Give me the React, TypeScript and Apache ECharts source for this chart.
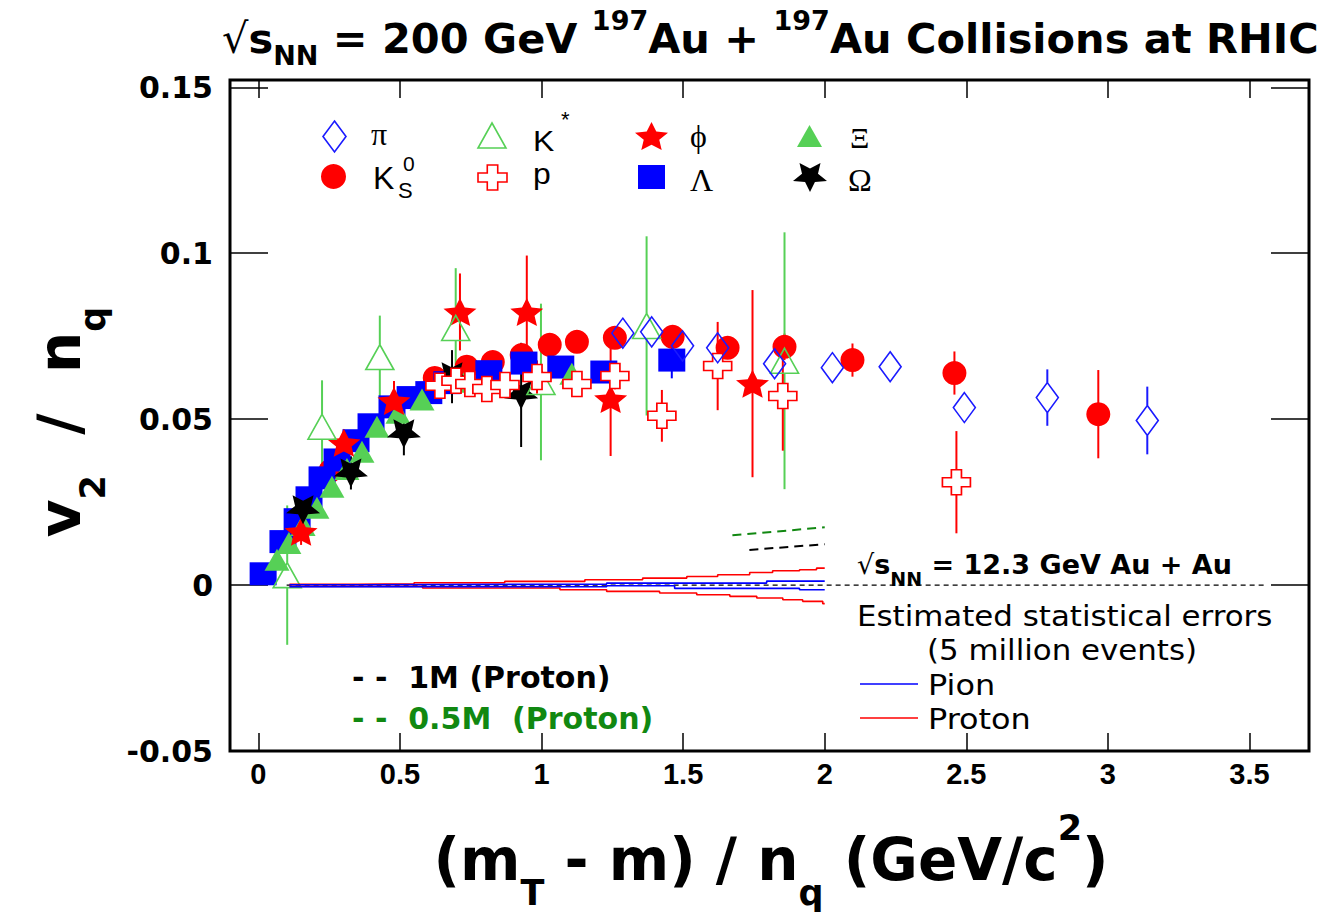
import React, { useEffect, useRef } from 'react';
import * as echarts from 'echarts';

// ---- axis ticks ----
const xTickValues = [0, 0.5, 1, 1.5, 2, 2.5, 3, 3.5];
const xTickLabels = ['0', '0.5', '1', '1.5', '2', '2.5', '3', '3.5'];
const yTickValues = [-0.05, 0, 0.05, 0.1, 0.15];
const yTickLabels = ['-0.05', '0', '0.05', '0.1', '0.15'];

// ---- v2/nq vs (mT - m)/nq, 200 GeV Au+Au ----
// pi
const pionX = [1.287, 1.389, 1.498, 1.622, 1.823, 2.027, 2.231, 2.493, 2.786, 3.139];
const pionV2 = [0.0759, 0.0763, 0.0721, 0.0715, 0.0667, 0.0655, 0.0658, 0.0535, 0.0565, 0.0496];
const pionErr = [0.001, 0.001, 0.001, 0.001, 0.0015, 0.0015, 0.002, 0.003, 0.0085, 0.0102];
// K0s
const k0sX = [0.255, 0.623, 0.736, 0.828, 0.93, 1.029, 1.125, 1.259, 1.463, 1.657, 1.858, 2.098, 2.458, 2.966];
const k0sV2 = [0.0345, 0.0624, 0.0658, 0.0672, 0.0693, 0.0724, 0.0733, 0.0745, 0.0748, 0.0715, 0.0718, 0.0678, 0.0639, 0.0515];
const k0sErr = [0.001, 0.001, 0.001, 0.001, 0.0015, 0.0015, 0.0015, 0.002, 0.002, 0.003, 0.004, 0.005, 0.0065, 0.0133];
// K*
const kstarX = [0.102, 0.225, 0.429, 0.697, 0.998, 1.371, 1.858];
const kstarV2 = [0.003, 0.0477, 0.0687, 0.0775, 0.0612, 0.0781, 0.0676];
const kstarErr = [0.021, 0.014, 0.0125, 0.018, 0.0236, 0.027, 0.0387];
// p
const protonX = [0.641, 0.698, 0.747, 0.807, 0.871, 0.984, 1.125, 1.259, 1.425, 1.622, 1.852, 2.465];
const protonV2 = [0.0601, 0.0616, 0.0606, 0.0591, 0.0603, 0.0627, 0.0606, 0.063, 0.051, 0.066, 0.057, 0.031];
const protonErr = [0.002, 0.002, 0.002, 0.002, 0.003, 0.005, 0.003, 0.004, 0.0078, 0.0133, 0.0165, 0.0154];
// phi
const phiX = [0.151, 0.302, 0.479, 0.712, 0.948, 1.244, 1.745];
const phiV2 = [0.0161, 0.0429, 0.0555, 0.0823, 0.0823, 0.0561, 0.0607];
const phiErr = [0.004, 0.004, 0.006, 0.0116, 0.017, 0.0172, 0.0282];
// Lambda
const lambdaX = [0.017, 0.087, 0.137, 0.179, 0.225, 0.278, 0.345, 0.398, 0.472, 0.536, 0.602, 0.666, 0.814, 0.938, 1.068, 1.22, 1.46];
const lambdaV2 = [0.0034, 0.0131, 0.0197, 0.0263, 0.0323, 0.0377, 0.0435, 0.0483, 0.0537, 0.0565, 0.058, 0.061, 0.0643, 0.0669, 0.0657, 0.0642, 0.0678];
const lambdaErr = [0.0005, 0.0005, 0.0005, 0.0005, 0.0005, 0.0006, 0.0006, 0.0007, 0.0008, 0.001, 0.001, 0.001, 0.0015, 0.002, 0.002, 0.003, 0.0055];
// Xi
const xiX = [0.066, 0.108, 0.158, 0.207, 0.26, 0.313, 0.366, 0.419, 0.493, 0.578, 0.729, 1.107];
const xiV2 = [0.0076, 0.0127, 0.0181, 0.0233, 0.0296, 0.035, 0.0402, 0.0477, 0.0519, 0.0559, 0.0613, 0.0637];
const xiErr = [0.001, 0.001, 0.001, 0.001, 0.001, 0.0012, 0.0012, 0.0015, 0.0015, 0.002, 0.002, 0.003];
// Omega
const omegaX = [0.158, 0.327, 0.514, 0.684, 0.928];
const omegaV2 = [0.0227, 0.0338, 0.0456, 0.0628, 0.0573];
const omegaErr = [0.006, 0.005, 0.0065, 0.008, 0.0157];

// ---- projected statistical errors, 12.3 GeV (5M events) ----
const protonUpX = [0.11, 0.35, 0.55, 0.87, 1.153, 1.357, 1.513, 1.622, 1.735, 1.816, 1.911, 1.971, 2.0];
const protonUpY = [0.0002, 0.0004, 0.0007, 0.0011, 0.0016, 0.0021, 0.0026, 0.0031, 0.0038, 0.0043, 0.0046, 0.0051, 0.0051];
const protonLoX = [0.11, 0.58, 1.065, 1.23, 1.417, 1.548, 1.665, 1.76, 1.852, 1.922, 1.993, 2.0];
const protonLoY = [-0.0004, -0.0009, -0.0014, -0.0019, -0.0024, -0.0029, -0.0034, -0.0039, -0.0044, -0.0049, -0.0056, -0.0056];
const pionUpX = [0.11, 0.35, 1.23, 1.795, 2.0];
const pionUpY = [0.0001, 0.0003, 0.0006, 0.0012, 0.0012];
const pionLoX = [0.11, 1.23, 1.47, 1.911, 2.0];
const pionLoY = [-0.0005, -0.0002, -0.001, -0.0014, -0.0014];
const refLineX = [0.1, 3.55];
const refLineY = [0, 0];
const proton1MX = [1.734, 2.0];
const proton1MY = [0.0106, 0.0123];
const proton05MX = [1.674, 2.0];
const proton05MY = [0.015, 0.0174];

const SANS = '"DejaVu Sans", sans-serif';
const ARIAL = '"Liberation Sans", Arial, sans-serif';
const SERIF = '"Liberation Serif", "DejaVu Serif", serif';

const RED = '#ff0000';
const BLUE = '#0000ff';
const PIBLUE = '#1a1aff';
const GREEN = '#56d056';
const DARKGREEN = '#118811';

// ---- marker geometry ----
function starPoints(inner: number): number[][] {
  const pts: number[][] = [];
  for (let k = 0; k < 10; k++) {
    const r = k % 2 === 0 ? 1 : inner;
    const a = ((-90 + k * 36) * Math.PI) / 180;
    pts.push([r * Math.cos(a), r * Math.sin(a)]);
  }
  return pts;
}
const A = 0.36;
const CROSS = [[-A, -1], [A, -1], [A, -A], [1, -A], [1, A], [A, A], [A, 1], [-A, 1], [-A, A], [-1, A], [-1, -A], [-A, -A]];
const STAR = starPoints(0.47);
const DIAMOND = [[0, -1], [1, 0], [0, 1], [-1, 0]];
const TRIANGLE = [[0, -1], [1, 1], [-1, 1]];

function symbolPath(pts: number[][]): string {
  return 'path://' + pts.map((p, i) => (i ? 'L' : 'M') + (p[0] * 100).toFixed(1) + ' ' + (p[1] * 100).toFixed(1)).join(' ') + ' Z';
}
function fitPoints(pts: number[][], cx: number, cy: number, w: number, h: number, flip = false): number[][] {
  const src = flip ? pts.map((p) => [p[0], -p[1]]) : pts;
  const xs = src.map((p) => p[0]);
  const ys = src.map((p) => p[1]);
  const x0 = Math.min(...xs), x1 = Math.max(...xs), y0 = Math.min(...ys), y1 = Math.max(...ys);
  return src.map((p) => [cx - w / 2 + ((p[0] - x0) / (x1 - x0)) * w, cy - h / 2 + ((p[1] - y0) / (y1 - y0)) * h]);
}

const zip = (xs: number[], ys: number[]) => xs.map((x, i) => [x, ys[i]]);

function errorBars(xs: number[], ys: number[], errs: number[], color: string, gap: number) {
  return {
    type: 'custom',
    silent: true,
    data: xs.map((x, i) => [x, ys[i], errs[i]]),
    encode: { x: 0, y: 1 },
    renderItem: (_p: any, api: any) => {
      const x = api.value(0), y = api.value(1), e = api.value(2);
      const top = api.coord([x, y + e]);
      const mid = api.coord([x, y]);
      const bot = api.coord([x, y - e]);
      const children: any[] = [];
      const st = { stroke: color, lineWidth: 2 };
      if (mid[1] - top[1] > gap) children.push({ type: 'line', shape: { x1: mid[0], y1: top[1], x2: mid[0], y2: mid[1] - gap }, style: st });
      if (bot[1] - mid[1] > gap) children.push({ type: 'line', shape: { x1: mid[0], y1: mid[1] + gap, x2: mid[0], y2: bot[1] }, style: st });
      return { type: 'group', children };
    },
  };
}

function markers(name: string, xs: number[], ys: number[], symbol: string, size: any, fill: string, stroke: string, rotate = 0) {
  return {
    type: 'scatter',
    name,
    data: zip(xs, ys),
    symbol,
    symbolSize: size,
    symbolRotate: rotate,
    silent: true,
    itemStyle: { color: fill, borderColor: stroke, borderWidth: stroke === 'none' ? 0 : 1.6, opacity: 1 },
  };
}

function bandLine(xs: number[], ys: number[], color: string, dash: any = 'solid', width = 1.6, step: any = 'end') {
  return {
    type: 'line',
    data: zip(xs, ys),
    step,
    symbol: 'none',
    silent: true,
    lineStyle: { color, width, type: dash },
  };
}

const fmt = (vals: number[], labels: string[]) => (v: number) => {
  const i = vals.findIndex((t) => Math.abs(t - v) < 1e-9);
  return i >= 0 ? labels[i] : '';
};

function buildOption() {
  const tickStyle = { color: '#000', width: 1.5 };
  const TRANSPARENT = 'rgba(0,0,0,0)';

  const legendShapes: any[] = [
    { type: 'polygon', shape: { points: fitPoints(DIAMOND, 334.5, 136.5, 23, 31) }, style: { fill: TRANSPARENT, stroke: PIBLUE, lineWidth: 1.6 } },
    { type: 'polygon', shape: { points: fitPoints(TRIANGLE, 492, 135.5, 28, 25) }, style: { fill: TRANSPARENT, stroke: GREEN, lineWidth: 1.6 } },
    { type: 'polygon', shape: { points: fitPoints(STAR, 651.5, 136, 33, 28) }, style: { fill: RED } },
    { type: 'polygon', shape: { points: fitPoints(TRIANGLE, 809.5, 136, 25, 22) }, style: { fill: GREEN } },
    { type: 'circle', shape: { cx: 333.5, cy: 176.5, r: 12.5 }, style: { fill: RED } },
    { type: 'polygon', shape: { points: fitPoints(CROSS, 492.5, 177.5, 29, 25) }, style: { fill: '#fff', stroke: RED, lineWidth: 1.6 } },
    { type: 'rect', shape: { x: 638, y: 165, width: 27, height: 24 }, style: { fill: BLUE } },
    { type: 'polygon', shape: { points: fitPoints(STAR, 810, 177.5, 34, 29, true) }, style: { fill: '#000' } },
  ];

  const txt = (text: string, x: number, y: number, font: string, size: number, extra: any = {}, scaleX = 1) => ({
    type: 'text',
    x,
    y,
    scaleX,
    style: { text, fontFamily: font, fontSize: size, fill: '#000', align: 'left', verticalAlign: 'middle', ...extra },
  });

  const legendTexts: any[] = [
    txt('π', 371, 134, SERIF, 32),
    txt('K', 533, 141, ARIAL, 29, { lineHeight: 24 }, 1.1),
    txt('*', 561, 119, ARIAL, 22, { lineHeight: 12 }),
    txt('ϕ', 690, 136, SERIF, 32),
    txt('Ξ', 850, 137, SERIF, 30),
    txt('K', 373, 178, ARIAL, 32, { lineHeight: 26 }),
    txt('0', 403, 163, ARIAL, 21, { lineHeight: 16 }),
    txt('S', 398, 190, ARIAL, 22, { lineHeight: 16 }),
    txt('p', 533, 174, ARIAL, 29, { lineHeight: 24 }, 1.1),
    txt('Λ', 690, 180, SERIF, 32),
    txt('Ω', 848, 180, SERIF, 32),
  ];

  const boldRich = (main: number, sub: number, lh: number, supLh: number) => ({
    r: { fontFamily: SANS, fontWeight: 'normal', fontSize: main, lineHeight: lh, fill: '#000' },
    m: { fontFamily: SANS, fontWeight: 'bold', fontSize: main, lineHeight: lh, fill: '#000' },
    sub: { fontFamily: SANS, fontWeight: 'bold', fontSize: sub, lineHeight: sub, verticalAlign: 'bottom', fill: '#000' },
    sup: { fontFamily: SANS, fontWeight: 'bold', fontSize: sub, lineHeight: supLh, verticalAlign: 'top', fill: '#000' },
  });

  const titles: any[] = [
    {
      type: 'text',
      x: 222,
      y: 38,
      style: {
        text: '{r|√}{m|s}{sub|NN}{m| = 200 GeV }{sup|197}{m|Au + }{sup|197}{m|Au Collisions at RHIC}',
        rich: boldRich(41.5, 27, 62, 27),
        align: 'left',
        verticalAlign: 'middle',
      },
    },
    {
      type: 'text',
      x: 771,
      y: 860,
      style: {
        text: '{m|(m}{sub|T}{m| - m) / n}{sub|q}{m| (GeV/c}{sup|2}{m|)}',
        rich: boldRich(58, 35, 100, 45),
        align: 'center',
        verticalAlign: 'middle',
      },
    },
    {
      type: 'text',
      x: 60,
      y: 422,
      rotation: Math.PI / 2,
      style: {
        text: '{m|v}{sub|2}{m|  /  n}{sub|q}',
        rich: boldRich(58, 35, 100, 45),
        align: 'center',
        verticalAlign: 'middle',
      },
    },
    {
      type: 'text',
      x: 857,
      y: 564.5,
      style: {
        text: '{r|√}{m|s}{sub|NN}{m| = 12.3 GeV Au + Au}',
        rich: boldRich(27, 19, 48, 19),
        align: 'left',
        verticalAlign: 'middle',
      },
    },
    txt('Estimated statistical errors', 857, 616, SANS, 29, { lineHeight: 28 }, 1.065),
    txt('(5 million events)', 1062, 650, SANS, 29, { align: 'center', lineHeight: 28 }, 1.065),
    txt('Pion', 928, 685, SANS, 29, { lineHeight: 28 }, 1.1),
    txt('Proton', 928, 719, SANS, 29, { lineHeight: 28 }, 1.1),
    { type: 'line', shape: { x1: 860, y1: 684, x2: 918, y2: 684 }, style: { stroke: BLUE, lineWidth: 1.5 } },
    { type: 'line', shape: { x1: 860, y1: 718, x2: 918, y2: 718 }, style: { stroke: RED, lineWidth: 1.5 } },
    txt('- -  1M (Proton)', 352, 677, SANS, 30, { fontWeight: 'bold', lineHeight: 32 }),
    txt('- -  0.5M  (Proton)', 352, 718, SANS, 30, { fontWeight: 'bold', fill: DARKGREEN, lineHeight: 32 }),
  ];

  const xAxisBase = {
    type: 'value',
    min: -0.1,
    max: 3.71,
    axisLine: { show: false, onZero: false },
    splitLine: { show: false },
    axisTick: { show: true, inside: true, length: 18, customValues: xTickValues, lineStyle: tickStyle },
  };
  const yAxisBase = {
    type: 'value',
    min: -0.05,
    max: 0.1522,
    axisLine: { show: false, onZero: false },
    splitLine: { show: false },
    axisTick: { show: true, inside: true, length: 38, customValues: yTickValues, lineStyle: tickStyle },
  };

  return {
    animation: false,
    backgroundColor: '#fff',
    grid: { left: 230, top: 80, right: 11, bottom: 161, show: true, borderColor: '#000', borderWidth: 3, backgroundColor: 'rgba(0,0,0,0)' },
    xAxis: [
      {
        ...xAxisBase,
        position: 'bottom',
        axisLabel: {
          show: true,
          customValues: xTickValues,
          formatter: fmt(xTickValues, xTickLabels),
          color: '#000',
          fontFamily: ARIAL,
          fontWeight: 'bold',
          fontSize: 29,
          margin: 8,
        },
      },
      { ...xAxisBase, position: 'top', axisLabel: { show: false } },
    ],
    yAxis: [
      {
        ...yAxisBase,
        position: 'left',
        axisLabel: {
          show: true,
          customValues: yTickValues,
          formatter: fmt(yTickValues, yTickLabels),
          color: '#000',
          fontFamily: SANS,
          fontWeight: 'bold',
          fontSize: 30,
          margin: 17,
        },
      },
      { ...yAxisBase, position: 'right', axisLabel: { show: false } },
    ],
    series: [
      bandLine(refLineX, refLineY, '#000', [5, 4], 1.4, false),
      bandLine(protonUpX, protonUpY, RED),
      bandLine(protonLoX, protonLoY, RED),
      bandLine(pionUpX, pionUpY, BLUE),
      bandLine(pionLoX, pionLoY, BLUE),
      bandLine(proton1MX, proton1MY, '#000', [9, 6], 2, false),
      bandLine(proton05MX, proton05MY, DARKGREEN, [9, 6], 2, false),

      errorBars(k0sX, k0sV2, k0sErr, RED, 0),
      markers('K0S', k0sX, k0sV2, 'circle', 24, RED, 'none'),
      errorBars(lambdaX, lambdaV2, lambdaErr, BLUE, 0),
      markers('Lambda', lambdaX, lambdaV2, 'rect', [27, 23], BLUE, 'none'),
      errorBars(xiX, xiV2, xiErr, GREEN, 0),
      markers('Xi', xiX, xiV2, 'triangle', [25, 22], GREEN, 'none'),
      errorBars(phiX, phiV2, phiErr, RED, 0),
      markers('phi', phiX, phiV2, symbolPath(STAR), [33, 28], RED, 'none'),
      errorBars(omegaX, omegaV2, omegaErr, '#000', 0),
      markers('Omega', omegaX, omegaV2, symbolPath(STAR), [34, 29], '#000', 'none', 180),
      errorBars(kstarX, kstarV2, kstarErr, GREEN, 12.5),
      markers('Kstar', kstarX, kstarV2, 'triangle', [28, 25], TRANSPARENT, GREEN),
      errorBars(protonX, protonV2, protonErr, RED, 12.5),
      markers('p', protonX, protonV2, symbolPath(CROSS), [28, 25], '#fff', RED),
      errorBars(pionX, pionV2, pionErr, PIBLUE, 15),
      markers('pi', pionX, pionV2, 'diamond', [22, 30], TRANSPARENT, PIBLUE),
    ],
    graphic: [...legendShapes, ...legendTexts, ...titles],
  };
}

export default function App() {
  const ref = useRef<HTMLDivElement>(null);
  useEffect(() => {
    if (!ref.current) return;
    const chart = echarts.init(ref.current, undefined, { renderer: 'svg' });
    chart.setOption(buildOption() as any);
    return () => chart.dispose();
  }, []);
  return <div ref={ref} style={{ position: 'fixed', left: 0, top: 0, width: 1320, height: 912, background: '#fff' }} />;
}
